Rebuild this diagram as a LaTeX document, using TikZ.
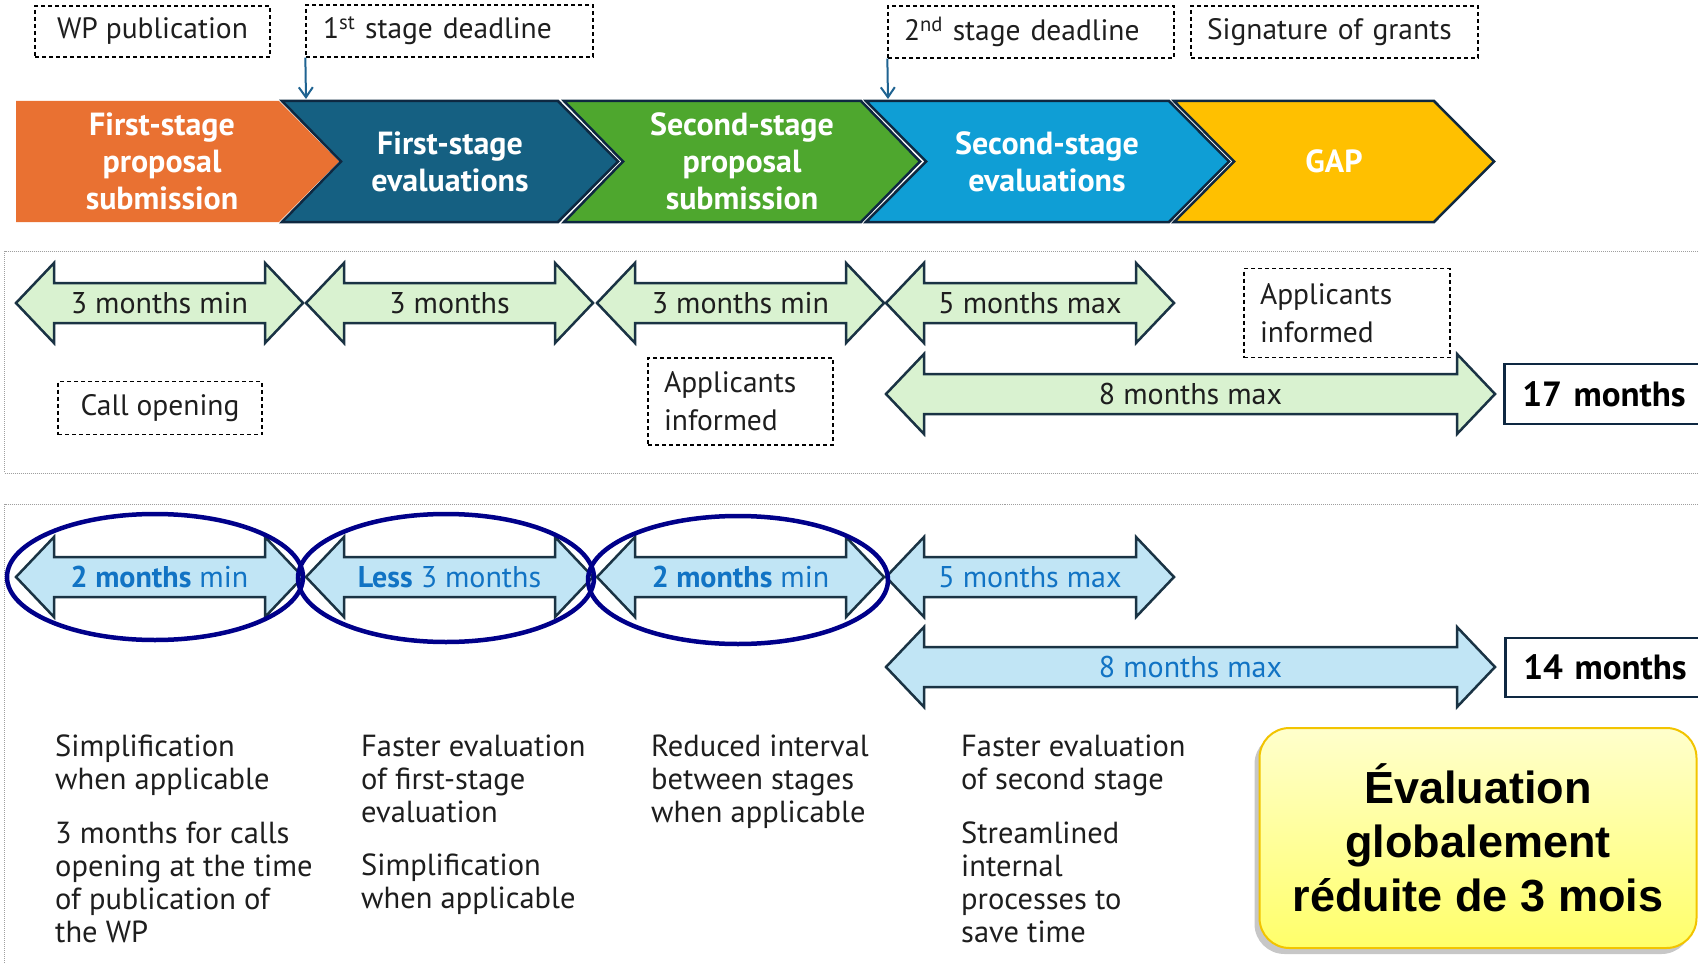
\documentclass[tikz,border=0pt]{standalone}
\usepackage{fontspec}
\setmainfont{PT Sans}
\newfontfamily\arialfont{Liberation Sans}
\usetikzlibrary{arrows.meta,shadows}
\definecolor{corange}{HTML}{E97132}
\definecolor{cdblue}{HTML}{156082}
\definecolor{cgreen}{HTML}{4EA72E}
\definecolor{clblue}{HTML}{0F9ED5}
\definecolor{cyellow}{HTML}{FFC000}
\definecolor{cnavy}{HTML}{0E2841}
\definecolor{agreen}{HTML}{D9F2D0}
\definecolor{ablue}{HTML}{C1E5F5}
\definecolor{atext}{HTML}{1173C4}
\definecolor{ringcol}{HTML}{00008A}
\definecolor{arrline}{HTML}{1A3344}
\definecolor{pointercol}{HTML}{1F6391}
\definecolor{ytop}{HTML}{FFFFCC}
\definecolor{ybot}{HTML}{FFFF6A}
\definecolor{yborder}{HTML}{F2C400}
\definecolor{txt}{HTML}{1E1E1E}
\newcommand\dblarrow[4]{%
  \filldraw[darr,#4] (#1,#3) -- (#1+38,#3-40) -- (#1+38,#3-20) -- (#2-38,#3-20) -- (#2-38,#3-40) -- (#2,#3)
   -- (#2-38,#3+40) -- (#2-38,#3+20) -- (#1+38,#3+20) -- (#1+38,#3+40) -- cycle;}
\tikzset{
  note/.style={draw=black, dash pattern=on 4pt off 3pt, line width=1.3pt, inner sep=0pt,
    font=\fontsize{29.5}{38}\selectfont, text=txt},
  chevtext/.style={text=white, font=\fontsize{32}{37}\selectfont\bfseries, align=center},
  chevline/.style={draw=cnavy, line width=2.5pt, line join=miter},
  darr/.style={draw=arrline, line width=2.5pt, line join=miter},
  arrtext/.style={font=\fontsize{30}{34}\selectfont, text=txt},
  arrtextb/.style={font=\fontsize{30}{34}\selectfont, text=atext},
  panel/.style={draw=gray!75, densely dotted, line width=1pt},
  totalbox/.style={draw=cnavy, line width=2.5pt, fill=white, anchor=west, inner xsep=0pt,
    font=\fontsize{35}{40}\selectfont\bfseries, text=black, align=left},
  bodytext/.style={font=\fontsize{30.5}{33}\selectfont, text=txt, align=left, anchor=north west, inner sep=0pt},
  ring/.style={draw=ringcol, line width=4.5pt},
  pointer/.style={draw=pointercol, line width=2pt, -{Straight Barb[length=10pt,width=14pt]}},
  summarybox/.style={draw=yborder, line width=2pt, rounded corners=30pt, top color=ytop, bottom color=ybot,
    minimum width=437pt, minimum height=220pt, align=center,
    font=\arialfont\fontsize{45}{54}\selectfont\bfseries, text=black,
    drop shadow={shadow xshift=-5pt, shadow yshift=-6pt, fill=black, opacity=0.22}}
}
\begin{document}
\begin{tikzpicture}[x=1pt,y=-1pt]
\useasboundingbox (0,0) rectangle (1698,963);
\clip (0,0) rectangle (1698,963);
\fill[white] (0,0) rectangle (1698,963);

% panels
\draw[panel] (4.5,251) rectangle (1720,473);
\draw[panel] (4.5,504) rectangle (1720,990);

% top notes
\node[note, minimum width=235pt, minimum height=51pt] (wp) at (152.5,31.5) {WP publication};
\node[note, minimum width=287pt, minimum height=52pt, text width=253pt, align=left] (d1) at (449.5,31) {1\textsuperscript{st} stage deadline};
\node[note, minimum width=286pt, minimum height=52pt, text width=254pt, align=left] (d2) at (1031,32) {2\textsuperscript{nd} stage deadline};
\node[note, minimum width=287pt, minimum height=52pt, text width=255pt, align=left] (sig) at (1334.5,32) {Signature of grants};

% chevrons
\fill[corange] (16,101) -- (279,101) -- (339,161.5) -- (279,222) -- (16,222) -- cycle;
\filldraw[chevline, fill=cdblue] (282,101) -- (558,101) -- (618,161.5) -- (558,222) -- (282,222) -- (341,161.5) -- cycle;
\filldraw[chevline, fill=cgreen] (564,101) -- (861,101) -- (920,161.5) -- (861,222) -- (564,222) -- (623,161.5) -- cycle;
\filldraw[chevline, fill=clblue] (866,101) -- (1169,101) -- (1229,161.5) -- (1169,222) -- (866,222) -- (926,161.5) -- cycle;
\filldraw[chevline, fill=cyellow] (1174,101) -- (1434,101) -- (1494,161.5) -- (1434,222) -- (1174,222) -- (1234,161.5) -- cycle;
\node[chevtext] (s1) at (162,161.5) {First-stage\\proposal\\submission};
\node[chevtext] (s2) at (450,161.5) {First-stage\\evaluations};
\node[chevtext] (s3) at (742,161.5) {Second-stage\\proposal\\submission};
\node[chevtext] (s4) at (1047,161.5) {Second-stage\\evaluations};
\node[chevtext] (s5) at (1334,161.5) {GAP};

% deadline pointers
\coordinate (t1) at (306,99);
\coordinate (t2) at (888,99);
\draw[pointer] (d1.south west) -- (t1);
\draw[pointer] (d2.south west) -- (t2);

% row 1 arrows
\dblarrow{16}{303}{303}{fill=agreen}
\dblarrow{306}{593}{303}{fill=agreen}
\dblarrow{597}{884}{303}{fill=agreen}
\dblarrow{886}{1174}{303}{fill=agreen}
\dblarrow{886}{1495}{394}{fill=agreen}
\node[arrtext] (a1) at (159.5,303) {3 months min};
\node[arrtext] (a2) at (449.5,303) {3 months};
\node[arrtext] (a3) at (740.5,303) {3 months min};
\node[arrtext] (a4) at (1030,303) {5 months max};
\node[arrtext] (a5) at (1190.5,394) {8 months max};

\node[note, minimum width=204pt, minimum height=53pt] (call) at (160,408) {Call opening};
\node[note, minimum width=185pt, minimum height=87pt, text width=153pt, align=left] (inf1) at (740.5,401.5) {Applicants\\informed};
\node[note, minimum width=206pt, minimum height=89pt, text width=174pt, align=left] (inf2) at (1347,313) {Applicants\\informed};
\node[totalbox, minimum width=220pt, minimum height=60pt, text width=184pt] (t17) at (1503,394) {17 months};

% row 2 arrows
\dblarrow{16}{303}{577}{fill=ablue}
\dblarrow{306}{593}{577}{fill=ablue}
\dblarrow{597}{884}{577}{fill=ablue}
\dblarrow{886}{1174}{577}{fill=ablue}
\dblarrow{886}{1495}{667}{fill=ablue}
\node[arrtextb] (b1) at (159.5,577) {\textbf{2 months} min};
\node[arrtextb] (b2) at (449.5,577) {\textbf{Less} 3 months};
\node[arrtextb] (b3) at (740.5,577) {\textbf{2 months} min};
\node[arrtextb] (b4) at (1030,577) {5 months max};
\node[arrtextb] (b5) at (1190.5,667) {8 months max};
\node[totalbox, minimum width=220pt, minimum height=59pt, text width=184pt] (t14) at (1504,667.5) {14 months};

% rings
\draw[ring] (155,577) ellipse [x radius=148pt, y radius=63pt];
\draw[ring] (446,578) ellipse [x radius=148pt, y radius=64pt];
\draw[ring] (738,580) ellipse [x radius=150pt, y radius=64pt];

% body text
\node[bodytext] (p1a) at (55,735) {Simplification\\when applicable};
\node[bodytext] (p1b) at (55,822) {3 months for calls\\opening at the time\\of publication of\\the WP};
\node[bodytext] (p2a) at (361,735) {Faster evaluation\\of first-stage\\evaluation};
\node[bodytext] (p2b) at (361,854) {Simplification\\when applicable};
\node[bodytext] (p3a) at (651,735) {Reduced interval\\between stages\\when applicable};
\node[bodytext] (p4a) at (961,735) {Faster evaluation\\of second stage};
\node[bodytext] (p4b) at (961,822) {Streamlined\\internal\\processes to\\save time};

% summary
\node[summarybox] (summary) at (1478,838) {Évaluation\\globalement\\réduite de 3 mois};
\end{tikzpicture}
\end{document}
